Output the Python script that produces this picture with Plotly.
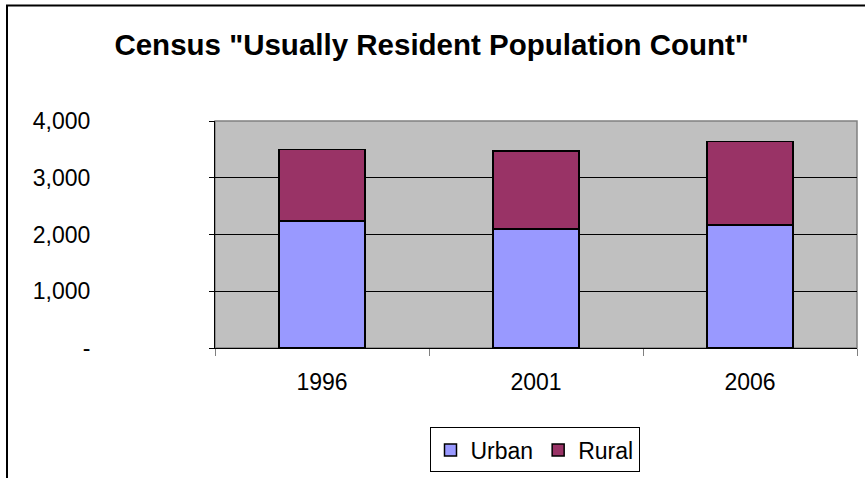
import plotly.graph_objects as go

# Census counts by area type
years = ["1996", "2001", "2006"]
urban = [2240, 2100, 2165]
rural = [1260, 1370, 1470]

y_tick_vals = [0, 1000, 2000, 3000, 4000]
y_tick_text = ["-", "1,000", "2,000", "3,000", "4,000"]

FONT = "Liberation Sans, Arial, sans-serif"

fig = go.Figure()
fig.add_trace(go.Bar(
    name="Urban", x=years, y=urban,
    marker=dict(color="#9999FF", line=dict(color="black", width=1.5)),
))
fig.add_trace(go.Bar(
    name="Rural", x=years, y=rural,
    marker=dict(color="#993366", line=dict(color="black", width=1.5)),
))

PL, PR, PT, PB = 215, 857, 120.7, 348.3
PW, PH = PR - PL, PB - PT


def px_x(px):
    return (px - PL) / PW


def px_y(py):
    return (PB - py) / PH


fig.update_layout(
    width=865, height=478,
    margin=dict(l=PL, r=865 - PR, t=PT, b=478 - PB, autoexpand=False),
    barmode="stack",
    bargap=0.6,
    paper_bgcolor="white",
    plot_bgcolor="#C0C0C0",
    font=dict(family=FONT, size=23, color="black"),
    title=dict(
        text='<b>Census "Usually Resident Population Count"</b>',
        x=0.499, xref="container", xanchor="center",
        y=1 - 45 / 478, yref="container", yanchor="middle",
        font=dict(family=FONT, size=29.5, color="black"),
    ),
    showlegend=True,
    legend=dict(
        orientation="h",
        x=px_x(534.5), xanchor="center",
        y=px_y(428), yanchor="top",
        bordercolor="black", borderwidth=1,
        bgcolor="white",
        font=dict(family=FONT, size=23),
        traceorder="normal",
        itemclick=False,
    ),
    xaxis=dict(
        type="category",
        showgrid=False,
        showline=True, linecolor="black", linewidth=1,
        ticks="outside", tickson="boundaries", ticklen=7,
        tickcolor="#808080", tickwidth=1,
        ticklabelstandoff=13,
        tickfont=dict(family=FONT, size=23),
        fixedrange=True,
    ),
    yaxis=dict(
        range=[0, 4000],
        tickvals=y_tick_vals, ticktext=y_tick_text,
        showgrid=True, gridcolor="black", gridwidth=1,
        showline=True, linecolor="black", linewidth=1,
        ticks="outside", ticklen=5, tickcolor="black",
        ticklabelstandoff=114,
        tickfont=dict(family=FONT, size=23),
        zeroline=False,
        fixedrange=True,
    ),
    shapes=[
        # grey frame round the plot area
        dict(type="rect", xref="paper", yref="paper", x0=0, x1=1, y0=0, y1=1,
             line=dict(color="#808080", width=1.5), fillcolor="rgba(0,0,0,0)",
             layer="below"),
        # outer chart border
        dict(type="rect", xref="paper", yref="paper",
             x0=px_x(7), x1=px_x(900), y0=px_y(5), y1=px_y(560),
             line=dict(color="black", width=2), fillcolor="rgba(0,0,0,0)"),
    ],
)

fig.write_html("out.html")
